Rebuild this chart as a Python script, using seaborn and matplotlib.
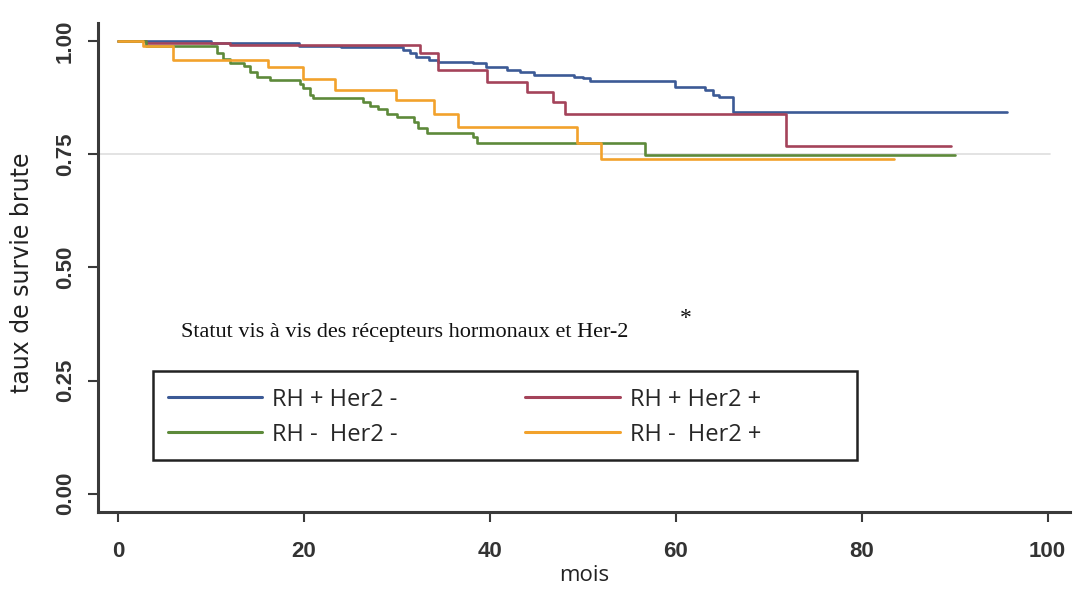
import matplotlib
matplotlib.use("Agg")
import matplotlib.pyplot as plt
import seaborn as sns
import pandas as pd
from matplotlib.patches import Rectangle

# Kaplan-Meier steps (time of drop, survival after drop)
groups = ["RH + Her2 -", "RH + Her2 +", "RH -  Her2 -", "RH -  Her2 +"]

t_rhp_her2n = [0, 10, 19.5, 24, 30.7, 31.4, 32.1, 33.5, 34.4, 38.2, 39.6, 41.8, 43.2,
               44.7, 49.1, 50, 50.8, 59.9, 63.1, 64, 64.7, 66.2, 95.6]
s_rhp_her2n = [1.0, 0.995, 0.99, 0.987, 0.98, 0.973, 0.965, 0.958, 0.954, 0.951, 0.943,
               0.937, 0.932, 0.925, 0.921, 0.918, 0.912, 0.899, 0.892, 0.881, 0.877,
               0.844, 0.844]

t_rhp_her2p = [0, 3, 12, 32.5, 34.4, 39.7, 44, 46.8, 48.1, 71.9, 89.6]
s_rhp_her2p = [1.0, 0.995, 0.991, 0.974, 0.936, 0.910, 0.888, 0.866, 0.840, 0.768, 0.768]

t_rhn_her2n = [0, 3, 10.6, 11.3, 12, 13.5, 14.2, 14.9, 16.3, 19.6, 19.9, 20.6, 21, 26.4,
               27.1, 28, 28.9, 30, 31.8, 32.3, 33.2, 38.2, 38.6, 56.7, 90]
s_rhn_her2n = [1.0, 0.99, 0.973, 0.96, 0.951, 0.945, 0.932, 0.921, 0.914, 0.905, 0.896,
               0.881, 0.874, 0.866, 0.857, 0.849, 0.840, 0.832, 0.822, 0.807, 0.796,
               0.789, 0.774, 0.749, 0.749]

t_rhn_her2p = [0, 2.7, 5.9, 16.1, 19.9, 23.3, 29.9, 34, 36.6, 49.4, 52, 83.5]
s_rhn_her2p = [1.0, 0.99, 0.958, 0.942, 0.916, 0.892, 0.87, 0.838, 0.811, 0.775, 0.739, 0.739]

colors = ["#3c5a96", "#a4435a", "#5d8a3a", "#f2a22c"]

x_ticks = [0, 20, 40, 60, 80, 100]
y_ticks = [0.0, 0.25, 0.5, 0.75, 1.0]

frames = []
for g, t, s in zip(groups,
                   [t_rhp_her2n, t_rhp_her2p, t_rhn_her2n, t_rhn_her2p],
                   [s_rhp_her2n, s_rhp_her2p, s_rhn_her2n, s_rhn_her2p]):
    frames.append(pd.DataFrame({"mois": t, "survie": s, "groupe": g}))
df = pd.concat(frames, ignore_index=True)

sns.set_style("white")
plt.rcParams["font.family"] = ["Liberation Sans", "DejaVu Sans"]

fig = plt.figure(figsize=(10.75, 5.91), dpi=100)
ax = fig.add_axes([0.0912, 0.134, 0.904, 0.827])

# reference line at 0.75
ax.axhline(0.75, xmin=0.0, xmax=0.98, color="#dedede", lw=1.2, zorder=0)

sns.lineplot(data=df, x="mois", y="survie", hue="groupe", hue_order=groups,
             palette=dict(zip(groups, colors)), drawstyle="steps-post",
             estimator=None, lw=1.9, ax=ax)

ax.set_xlim(-2.15, 102.4)
ax.set_ylim(-0.04, 1.04)
ax.set_xticks(x_ticks)
ax.set_xticklabels([str(v) for v in x_ticks])
ax.set_yticks(y_ticks)
ax.set_yticklabels(["%.2f" % v for v in y_ticks], rotation=90, va="center")

for side in ["top", "right"]:
    ax.spines[side].set_visible(False)
for side in ["left", "bottom"]:
    ax.spines[side].set_color("#3a3a3a")
    ax.spines[side].set_linewidth(2.2)
ax.tick_params(axis="both", direction="out", length=7, width=1.5, color="#3a3a3a",
               bottom=True, left=True, labelsize=16, labelcolor="#333333")
ax.tick_params(axis="x", pad=14)
ax.tick_params(axis="y", pad=9)
for lab in ax.get_xticklabels() + ax.get_yticklabels():
    lab.set_fontweight("bold")

ax.set_xlabel("mois", fontsize=16, family=["Open Sans", "DejaVu Sans"], color="#222222")
ax.xaxis.set_label_coords(0.5, -0.108)
ax.set_ylabel("taux de survie brute", fontsize=17, family=["DejaVu Sans"],
              color="#222222")
ax.yaxis.set_label_coords(-0.066, 0.49)

# legend: title above, framed box below
ax.text(0.0854, 0.366, "Statut vis à vis des récepteurs hormonaux et Her-2",
        transform=ax.transAxes, fontsize=16, family=["Liberation Serif", "DejaVu Serif"],
        va="center", ha="left", color="#111111")
ax.text(0.605, 0.395, "*", transform=ax.transAxes, fontsize=17,
        family=["Liberation Serif"], va="center", ha="center", color="#111111")
ax.add_patch(Rectangle((0.0566, 0.1063), 0.7243, 0.182, transform=ax.transAxes,
                       fill=False, edgecolor="#222222", lw=1.8, clip_on=False))

handles, labels = ax.get_legend_handles_labels()
for h in handles:
    h.set_linewidth(2.2)
order = [0, 2, 1, 3]
ax.legend([handles[i] for i in order], [labels[i] for i in order], ncol=2,
          loc="upper left", bbox_to_anchor=(0.072, 0.254),
          frameon=False, borderaxespad=0, borderpad=0, handlelength=4.0,
          handletextpad=0.42, columnspacing=5.4, labelspacing=0.47,
          prop={"family": ["Open Sans", "DejaVu Sans"], "size": 17})

fig.savefig("out.png", dpi=100)
